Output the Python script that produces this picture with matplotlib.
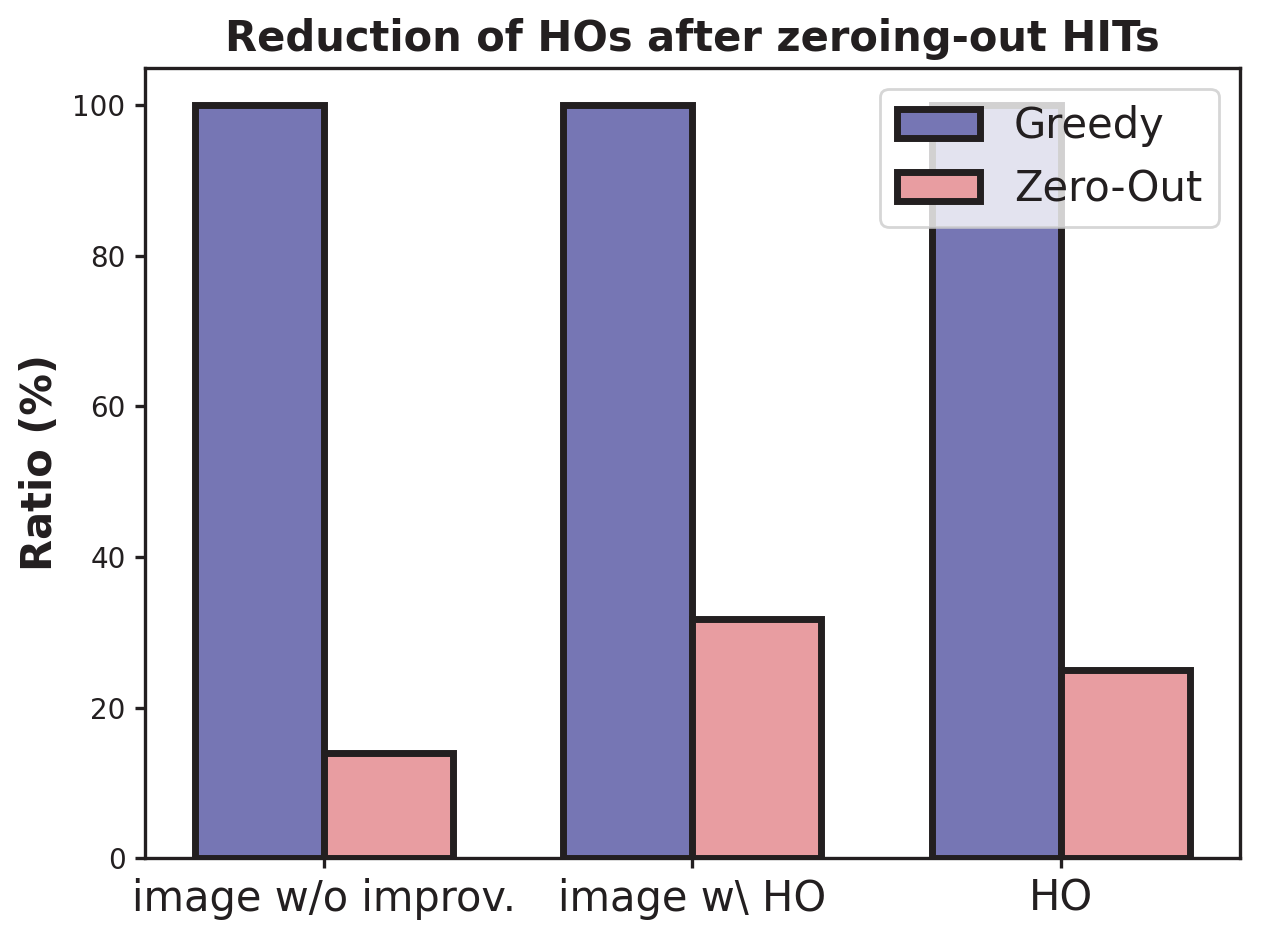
import matplotlib
matplotlib.use("Agg")
import matplotlib.pyplot as plt
import numpy as np

# Values
categories = ["image w/o improv.", "image w\\ HO", "HO"]
greedy = [100, 100, 100]
zero_out = [14.0, 31.8, 25.0]

dark = "#231f20"
plt.rcParams["text.color"] = dark
plt.rcParams["axes.labelcolor"] = dark
plt.rcParams["axes.edgecolor"] = dark
plt.rcParams["xtick.color"] = dark
plt.rcParams["ytick.color"] = dark
plt.rcParams["axes.linewidth"] = 1.2

fig, ax = plt.subplots(figsize=(1261 / 200, 940 / 200), dpi=200)
fig.subplots_adjust(left=0.115, right=0.983, top=0.928, bottom=0.087)

x = np.arange(len(categories))
width = 0.35

ax.bar(x - width / 2, greedy, width, color="#7676b4", edgecolor=dark,
       linewidth=2.5, label="Greedy")
ax.bar(x + width / 2, zero_out, width, color="#e89da1", edgecolor=dark,
       linewidth=2.5, label="Zero-Out")

ax.set_xticks(x)
ax.set_xticklabels(categories, fontsize=15)
ax.tick_params(axis="both", width=1.2)
ax.tick_params(axis="y", labelsize=10)

ax.set_ylabel("Ratio (%)", fontsize=15, fontweight="bold")
ax.set_title("Reduction of HOs after zeroing-out HITs", fontsize=15, fontweight="bold")

ax.legend(loc="upper right", fontsize=15)

fig.savefig("out.png", dpi=200)
